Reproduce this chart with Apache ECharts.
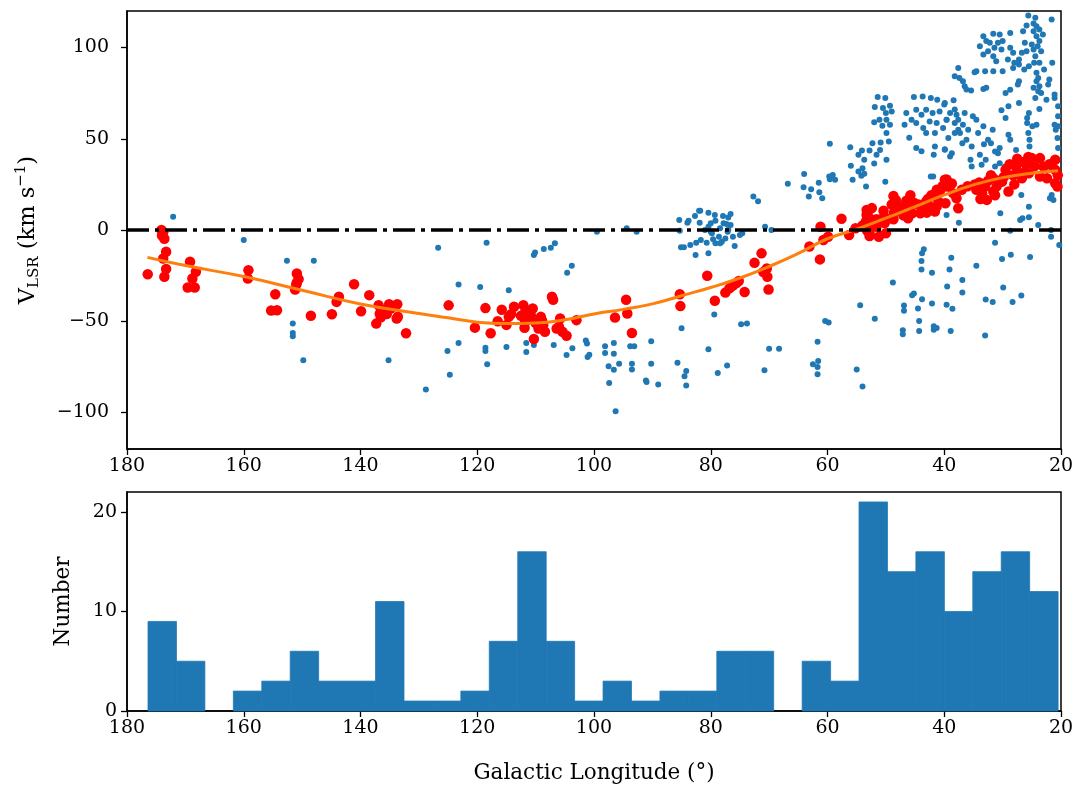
<!DOCTYPE html>
<html style="height: 100%">
<head>
<meta charset="utf-8">
</head>
<body style="height: 100%; margin: 0; background: #fff">
<div id="container" style="width: 1078px; height: 786px"></div>
<script type="text/javascript" src="https://cdn.jsdelivr.net/npm/echarts@6/dist/echarts.min.js"></script>
<script type="text/javascript">

// tick values
var xTicks = [20, 40, 60, 80, 100, 120, 140, 160, 180];
var velTicks = [-100, -50, 0, 50, 100];
var countTicks = [0, 10, 20];

// blue points: [longitude, velocity]
var bluePts = [
  [172.1,7.3],[160.0,-5.5],[152.6,-16.8],[148.0,-16.8],[151.6,-51.3],[151.6,-56.4],[151.6,-58.2],[149.8,-71.4],
  [135.2,-71.4],[128.8,-87.4],[126.7,-9.7],[118.4,-7.0],[110.3,-13.7],[110.1,-12.3],[108.6,-10.4],[107.4,-9.7],
  [106.7,-7.3],[103.8,-19.6],[104.6,-23.4],[123.2,-29.8],[119.5,-31.3],[114.6,-33.0],[123.2,-61.9],[125.1,-66.3],
  [124.7,-79.3],[118.6,-64.5],[118.6,-66.3],[118.3,-73.6],[115.0,-64.1],[111.6,-61.9],[111.6,-66.8],[110.3,-63.0],
  [106.9,-63.0],[104.7,-68.5],[103.7,-64.8],[101.4,-60.6],[101.1,-69.6],
  [99.5,-0.9],[94.4,1.0],[92.7,-0.9],[101.2,-62.2],[100.8,-68.3],[98.1,-63.7],[98.1,-67.4],[96.6,-61.9],[96.6,-67.8],
  [97.5,-74.7],[96.6,-76.6],[95.7,-73.3],[97.4,-83.9],[96.3,-99.3],[93.8,-63.7],[93.1,-63.7],[93.5,-73.3],[93.5,-76.4],
  [90.2,-61.0],[90.2,-73.3],[91.1,-82.4],[91.0,-83.3],[89.0,-84.6],[85.7,-72.7],[84.2,-77.3],[84.5,-80.2],[84.2,-85.2],
  [85.0,-53.8],[79.4,-46.3],[80.4,-65.4],[77.2,-74.2],[78.8,-78.4],[74.8,-51.6],[73.8,-51.3],[70.8,-76.9],[70.0,-65.0],
  [68.3,-65.0],
  [85.4,5.5],[83.8,5.1],[84.0,4.0],[82.7,7.7],[82.0,10.6],[81.8,10.6],[80.4,9.5],[79.3,8.2],[77.0,6.9],[76.6,8.8],
  [81.9,4.0],[85.3,-0.4],[81.0,0],[80.4,1.8],[80.0,-0.9],[79.8,-1.8],[78.4,0.9],[77.8,3.7],[77.1,-0.9],[76.6,2.7],
  [78.6,-3.7],[78.1,-6.4],[79.2,-7.3],[80.7,-7.0],[81.7,-5.5],[82.5,-7.0],[83.5,-8.2],[85.1,-9.5],[84.6,-9.5],
  [82.6,-13.7],[80.4,-12.8],[75.9,-8.8],[75.0,-2.7],[74.6,-1.8],[76.2,-3.7],[77.5,-4.6],[79.6,-5.0],[78.4,-7.3],
  [77.0,0.2],[80.0,3.7],[79.2,5.1],[77.9,7.7],[77.3,3.3],[72.7,18.3],[71.9,15.8],[70.7,1.8],[69.6,0],
  [60.4,-49.8],[59.8,-50.7],[61.7,-61.3],[62.5,-73.6],[61.6,-71.8],[61.7,-75.0],[61.7,-79.0],[55.0,-76.4],[54.0,-85.7],
  [54.4,-41.2],[51.9,-48.6],[48.8,-28.7],[46.9,-41.4],[46.9,-44.3],[47.1,-54.9],[47.1,-57.1],[45.5,-35.7],[45.2,-34.8],
  [44.5,-43.0],[44.3,-49.8],[44.3,-55.3],[43.8,-37.9],[43.8,-12.8],[43.5,-10.6],[43.9,-17.0],[43.9,-21.6],[42.1,-23.4],
  [42.1,-40.3],[41.8,-52.7],[41.8,-54.6],[41.3,-53.7],[39.6,-41.0],[39.5,-31.0],[39.1,-21.6],[38.8,-15.2],[38.6,-43.1],
  [38.9,-55.4],[36.9,-27.4],[36.9,-34.2],[34.5,-19.6],[33.0,-57.8],[32.9,-38.1],[31.7,-39.4],[31.3,-7.0],[30.1,-15.9],
  [28.6,-13.5],[29.9,-31.5],[28.3,-39.4],[26.8,-35.9],[25.3,-14.8],[28.7,-0.4],[21.7,-3.7],[20.3,-8.2],
  [37.5,4.0],[39.6,8.2],[30.4,9.2],[27.0,5.5],[26.6,6.4],[25.5,7.0],[25.5,12.8],[23.9,2.7],[21.7,0],[26.8,19.2],
  [21.9,17.4],[21.6,19.2],[21.3,16.5],[42.3,29.3],[21.6,32.9],[20.5,44.9],[20.6,50.4],[20.5,56.8],
  [51.4,72.9],[50.1,72.3],[51.9,67.4],[50.5,66.8],[49.3,68.1],[49.0,65.0],[50.0,64.1],[49.9,60.4],[49.3,57.7],
  [50.6,57.1],[52.0,59.0],[51.1,60.4],[49.9,53.1],[49.5,48.5],[45.2,72.9],[43.7,73.2],[42.3,72.3],[41.2,71.4],
  [40.0,68.7],[46.5,64.1],[44.8,65.9],[43.9,63.2],[43.1,65.9],[42.0,64.1],[40.8,65.0],[45.6,60.4],[44.8,58.6],
  [43.6,55.9],[42.5,59.5],[41.3,58.6],[39.6,60.4],[40.2,55.9],[43.1,53.1],[41.6,53.1],[46.8,57.7],[46.0,50.5],
  [44.8,45.0],[43.9,43.2],[41.6,45.8],[41.8,41.2],[39.9,44.0],[39.0,40.3],[59.6,47.2],[56.1,45.4],[54.1,43.6],
  [52.8,43.6],[52.3,47.6],[50.9,47.9],[51.0,43.9],[51.6,41.2],[49.9,38.5],[52.0,36.4],[53.7,38.5],[54.7,41.2],
  [56.0,35.2],[54.0,33.9],[54.7,32.1],[54.2,29.7],[53.7,30.8],[55.7,27.5],[59.1,30.2],[59.6,27.8],[58.7,27.5],
  [53.4,23.8],[50.1,26.4],[64.0,30.7],[64.1,23.4],[66.8,25.3],[61.5,25.9],[62.8,22.3],[63.2,18.3],[60.9,17.4],
  [41.9,29.3],[61.4,20.7],[59.7,29.3],
  [39.9,44.3],[38.7,42.1],[39.3,50.4],[38.2,53.1],[37.6,54.9],[37.3,53.1],[35.9,54.9],[36.2,49.5],[36.9,47.6],
  [35.3,45.8],[33.9,41.2],[35.5,38.5],[35.3,34.8],[33.6,35.7],[32.9,38.5],[31.3,43.0],[30.8,42.0],[30.5,44.9],
  [32.0,47.6],[32.5,49.5],[33.2,47.0],[34.2,53.1],[31.7,54.9],[29.0,52.2],[28.7,49.5],[27.7,43.9],[25.6,53.1],
  [25.4,49.5],[25.4,45.8],[29.6,34.8],[31.3,34.8],[30.5,36.6],[20.9,54.9],
  [25.6,117.6],[24.4,116.3],[21.6,115.4],[24.7,113.2],[25.9,112.0],[24.2,111.7],[23.7,109.9],[26.5,108.9],[24.7,108.9],
  [23.1,107.1],[24.2,106.2],[23.7,103.5],[24.0,100.7],[23.4,98.0],[24.7,98.9],[25.0,101.6],[26.2,102.6],[25.9,98.0],
  [26.7,97.1],[24.4,95.2],[33.3,106.2],[31.6,107.6],[30.5,107.1],[28.7,108.0],[32.8,103.5],[33.9,100.7],[32.2,102.6],
  [30.8,102.6],[30.0,103.5],[31.4,99.8],[30.2,98.9],[28.7,99.8],[28.2,97.1],[33.3,96.2],[32.5,98.0],[31.6,95.2],
  [31.1,92.5],[29.1,93.4],[28.0,91.6],[27.2,93.4],[26.3,87.9],[30.0,87.0],[31.6,87.0],[33.0,87.0],[34.5,87.0],
  [28.2,88.8],[27.2,90.7],[25.5,89.7],[24.6,91.6],[23.7,91.6],[22.9,87.9],[21.5,91.6],[24.2,86.1],[23.9,83.3],
  [24.2,81.5],[23.7,78.8],[23.4,75.1],[22.5,71.4],[22.0,82.4],[22.2,79.7],[21.1,74.2],[20.5,67.8],[21.1,72.3],
  [24.7,77.9],[23.9,76.0],[24.4,72.3],[23.7,66.3],[25.5,64.1],[25.8,61.4],[24.2,57.7],[29.0,67.8],[30.2,65.6],
  [27.2,69.6],[28.7,76.9],[27.2,81.5],[27.4,79.7],[29.5,75.1],[33.3,77.3],[32.8,77.9],[35.4,76.4],[36.5,78.8],
  [36.8,81.5],[37.4,83.3],[38.2,84.2],[37.6,88.8],[34.8,86.5],[36.2,77.0],[38.4,71.1],[39.9,69.6],[38.2,66.0],
  [39.0,64.1],[37.9,63.2],[37.6,60.4],[38.2,58.6],[36.8,57.7],[35.1,62.3],[34.5,60.4],[33.3,56.8],[36.5,64.1],
  [39.6,60.4],[29.5,61.4],[25.8,58.6],[24.9,56.8],[20.5,62.3],[21.1,57.7]
];

// red points: [longitude, velocity]
var redPts = [
  [176.45,-24.2],[174.1,0],[173.8,-1.2],[173.6,-4.8],[173.3,-11.9],[173.8,-15.6],[173.3,-21.4],[173.6,-25.6],[174.0,-3],
  [169.2,-17.4],[168.2,-22.9],[168.8,-26.6],[169.6,-31.5],[168.4,-31.5],
  [159.2,-22],[159.3,-26.6],
  [154.6,-35.2],[155.3,-44.1],[154.3,-44],
  [150.9,-23.8],[150.6,-26.9],[151.0,-29.8],[151.2,-32.6],[148.5,-47],[150.9,-28.7],
  [144.9,-46.2],[143.7,-36.6],[144.1,-39.4],
  [141.1,-29.7],[139.9,-44.5],[138.5,-35.7],
  [136.9,-41.2],[135.1,-40.7],[133.7,-40.7],[136.7,-45.9],[136.5,-47.8],[137.3,-51.3],[133.8,-48.5],[133.6,-47.5],
  [136.0,-44],[134.8,-43],[135.5,-46],
  [132.2,-56.6],
  [124.9,-41.3],
  [120.4,-53.5],[118.6,-42.8],
  [117.7,-56.6],[115.8,-43.7],[114.6,-47.6],[114.2,-46.1],[113.7,-42.1],[116.5,-50],[115.0,-52],
  [112.1,-41.2],[111.9,-45.8],[111.9,-53.6],[111.3,-48.5],[110.3,-59.7],[109.1,-47.6],[108.7,-52.2],[108.4,-55.8],
  [111.7,-44.9],[111.8,-50.5],[110.8,-47],[110.0,-51],[109.5,-54],[112.5,-47],[110.5,-43],[108.9,-49.5],
  [107.2,-36.6],[107.0,-38.2],[106.4,-54],[105.8,-48.5],[105.4,-55.8],[104.7,-57.9],[106.0,-53],
  [103.0,-49.4],
  [96.4,-48],[94.5,-38.2],[94.3,-45.8],
  [93.5,-56.4],
  [85.3,-35.2],[85.2,-41.7],
  [80.6,-25.1],[79.3,-38.8],
  [77.5,-34.3],[76.2,-30.5],[75.2,-27.9],[74.2,-34],[76.8,-32],[75.6,-29],
  [71.3,-12.8],[70.4,-21.1],[70.3,-25.6],[70.1,-32.6],[72.5,-18],[71.0,-23],
  [63.1,-9],[61.3,-16.1],[61.2,1.8],[60.7,-5.5],[59.9,-3.7],
  [57.6,6.2],[56.3,-2.7],[55.2,1],
  [53.3,11],[53.3,8.4],[53.4,4.8],[53.0,2],[52.8,-1.8],[52.8,-3.3],[52.9,0.5],[52.6,6],[53.1,9.7],[52.7,3],
  [53.2,-0.5],[51.6,5.9],[51.6,1.8],[50.4,10.6],[50.2,3.8],[50.0,-1.8],[50.3,7.5],[51.2,-3.7],[52.4,12],[54.0,2.5],
  [49.9,5.5],
  [48.7,18.6],[48.3,16.5],[48.7,5.9],[48.6,9.5],[46.2,6.4],[45.9,12.5],[45.8,19],[45.5,9.2],[47.5,13],[47.0,8],
  [49.0,14],[46.5,16],[45.2,15],[48.0,11.5],
  [44.1,9.2],[43.6,11],[43.0,9.5],[43.1,15.6],[42.4,12.8],[42.2,19],[41.8,19.2],[41.3,22],[40.8,21],[41.0,15.6],
  [41.6,10.1],[40.7,22],[41.3,12.8],[44.4,14],[42.8,17],[40.3,24],
  [39.6,27.7],[38.7,25.5],[38.5,20.2],[37.9,17.4],[37.6,11.9],[39.9,27.5],[39.8,14.7],[39.6,23.8],[37.0,22],[36.0,24],
  [32.7,16.5],[33.0,23.8],[31.6,28.4],[31.6,21.1],[31.0,24],[34.5,22],[34.0,26],[33.5,20],[32.5,27],[32.0,30],
  [30.8,27],[33.8,17],[34.8,25],[31.3,19],
  [29.0,21.1],[30.1,26.5],[28.2,30],[27.7,34.8],[26.7,37.3],[26.1,32.1],[26.7,28.4],[25.5,31.1],[29.5,33],[28.8,36],
  [27.5,39],[29.8,29],[28.0,25],[27.0,31],[26.0,36],[25.6,40],
  [25.0,39.4],[23.6,39.4],[23.0,34.8],[23.6,29.3],[22.4,28.4],[21.0,38.5],[21.0,33],[21.0,25.6],[20.6,23.8],[24.5,35],
  [22.0,36],[20.55,30]
];

// model curve
var curvePts = [
  [176.5,-15],[170,-19.5],[160,-25.5],[150,-33],[140,-40.5],[130,-45.8],[125,-48.1],[120,-50.5],[115,-51.2],
  [110,-50.9],[105,-49.2],[100,-46],[95,-43.5],[90,-40.5],[85,-36],[80,-31.5],[75,-26.3],[70,-20],[65,-12.8],
  [60,-4.8],[55,0.5],[50,6.5],[45,12.8],[40,19.2],[35,24.7],[30,28.7],[25,31.1],[20.5,32.5]
];

// histogram of red points
var histEdges = [176.40, 171.53, 166.66, 161.78, 156.91, 152.04, 147.17, 142.30, 137.42, 132.55, 127.68,
  122.81, 117.94, 113.06, 108.19, 103.32, 98.45, 93.58, 88.70, 83.83, 78.96, 74.09, 69.22, 64.34, 59.47,
  54.60, 49.73, 44.86, 39.98, 35.11, 30.24, 25.37, 20.50];
var histCounts = [9, 5, 0, 2, 3, 6, 3, 3, 11, 1, 1, 2, 7, 16, 7, 1, 3, 1, 2, 2, 6, 6, 0, 5, 3, 21, 14, 16, 10, 14, 16, 12];

var histData = [];
for (var i = 0; i < histCounts.length; i++) {
    histData.push([histEdges[i], histEdges[i + 1], histCounts[i]]);
}

var FONT = 'DejaVu Serif';
var BLUE = '#1f77b4';

function minusFmt(v) {
    return v < 0 ? '\u2212' + (-v) : '' + v;
}

function xAxisFor(idx, withName) {
    var ax = {
        gridIndex: idx,
        type: 'value',
        min: 20,
        max: 180,
        interval: 20,
        inverse: true,
        axisLine: { show: true, onZero: false, lineStyle: { color: '#000', width: 1.5 } },
        axisTick: { show: true, length: 6, lineStyle: { color: '#000', width: 1.3 } },
        axisLabel: { color: '#000', fontSize: 19, fontFamily: FONT, margin: 8, customValues: xTicks },
        splitLine: { show: false }
    };
    if (withName) {
        ax.name = 'Galactic Longitude (\u00b0)';
        ax.nameLocation = 'middle';
        ax.nameGap = 51;
        ax.nameTextStyle = { color: '#000', fontSize: 21.5, fontFamily: FONT };
    }
    return ax;
}

var myChart = echarts.init(document.getElementById('container'), null, { renderer: 'canvas' });

var option = {
    backgroundColor: '#fff',
    animation: false,
    grid: [
        { left: 127, right: 17, top: 11, height: 438, show: true, borderColor: '#000', borderWidth: 1.5 },
        { left: 127, right: 17, top: 492, height: 219, show: true, borderColor: '#000', borderWidth: 1.5 }
    ],
    xAxis: [xAxisFor(0, false), xAxisFor(1, true)],
    yAxis: [
        {
            gridIndex: 0,
            type: 'value',
            min: -120,
            max: 120,
            axisLine: { show: true, onZero: false, lineStyle: { color: '#000', width: 1.5 } },
            axisTick: { show: true, length: 6, customValues: velTicks, lineStyle: { color: '#000', width: 1.3 } },
            axisLabel: { color: '#000', fontSize: 19, fontFamily: FONT, margin: 18, customValues: velTicks, formatter: minusFmt },
            splitLine: { show: false },
            name: '{a|V}{s|LSR}{a| (km s}{p|\u22121}{a|)}',
            nameLocation: 'middle',
            nameRotate: 90,
            nameGap: 83,
            nameTextStyle: {
                color: '#000',
                rich: {
                    a: { fontSize: 22.5, fontFamily: FONT, color: '#000', lineHeight: 32, verticalAlign: 'middle' },
                    s: { fontSize: 15, fontFamily: FONT, color: '#000', lineHeight: 32, verticalAlign: 'bottom', padding: [0, 0, 2, 0] },
                    p: { fontSize: 15, fontFamily: FONT, color: '#000', lineHeight: 32, verticalAlign: 'top', padding: [2, 0, 0, 0] }
                }
            }
        },
        {
            gridIndex: 1,
            type: 'value',
            min: 0,
            max: 22,
            axisLine: { show: true, onZero: false, lineStyle: { color: '#000', width: 1.5 } },
            axisTick: { show: true, length: 6, customValues: countTicks, lineStyle: { color: '#000', width: 1.3 } },
            axisLabel: { color: '#000', fontSize: 19, fontFamily: FONT, margin: 10, customValues: countTicks },
            splitLine: { show: false },
            name: 'Number',
            nameLocation: 'middle',
            nameRotate: 90,
            nameGap: 53,
            nameTextStyle: { color: '#000', fontSize: 21.5, fontFamily: FONT }
        }
    ],
    series: [
        {
            name: 'zero',
            type: 'line',
            xAxisIndex: 0,
            yAxisIndex: 0,
            data: [],
            markLine: {
                silent: true,
                symbol: 'none',
                label: { show: false },
                lineStyle: { color: '#000', width: 3.5, type: [22, 6, 4, 6] },
                data: [{ yAxis: 0 }]
            },
            z: 1
        },
        {
            name: 'blue',
            type: 'scatter',
            xAxisIndex: 0,
            yAxisIndex: 0,
            data: bluePts,
            symbolSize: 6,
            itemStyle: { color: BLUE, opacity: 1 },
            z: 2
        },
        {
            name: 'red',
            type: 'scatter',
            xAxisIndex: 0,
            yAxisIndex: 0,
            data: redPts,
            symbolSize: 10.5,
            itemStyle: { color: '#ff0000', opacity: 1 },
            z: 3
        },
        {
            name: 'curve',
            type: 'line',
            xAxisIndex: 0,
            yAxisIndex: 0,
            data: curvePts,
            smooth: true,
            showSymbol: false,
            lineStyle: { color: '#ff7f0e', width: 3 },
            z: 4
        },
        {
            name: 'hist',
            type: 'custom',
            xAxisIndex: 1,
            yAxisIndex: 1,
            data: histData,
            encode: { x: [0, 1], y: 2 },
            renderItem: function (params, api) {
                if (!api.value(2)) {
                    return null;
                }
                var p0 = api.coord([api.value(0), api.value(2)]);
                var p1 = api.coord([api.value(1), 0]);
                return {
                    type: 'rect',
                    shape: {
                        x: Math.min(p0[0], p1[0]),
                        y: p0[1],
                        width: Math.abs(p1[0] - p0[0]),
                        height: p1[1] - p0[1]
                    },
                    style: { fill: BLUE, stroke: BLUE, lineWidth: 0.8 }
                };
            }
        }
    ]
};

myChart.setOption(option, true);

</script>
</body>
</html>
